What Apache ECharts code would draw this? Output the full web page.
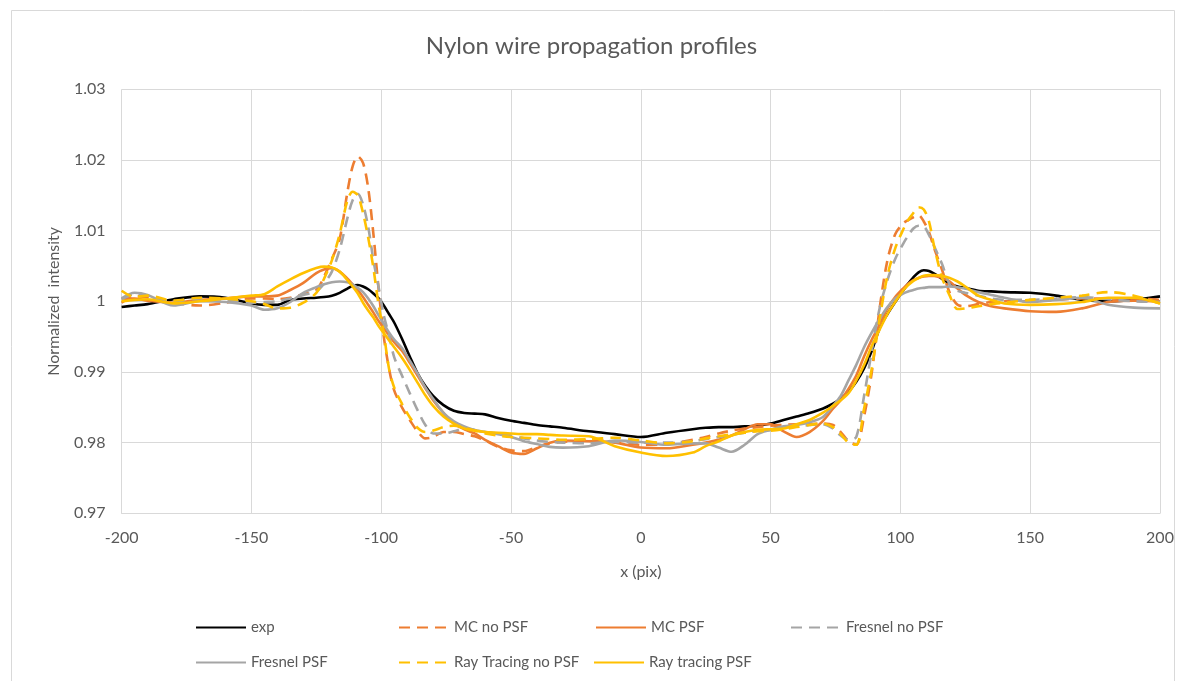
<!DOCTYPE html>
<html>
<head>
<meta charset="utf-8">
<script src="https://cdn.jsdelivr.net/npm/echarts@6/dist/echarts.min.js"></script>
<style>
  html, body { margin: 0; padding: 0; background: #fff; }
  #chart { width: 1183px; height: 681px; }
</style>
</head>
<body>
<div id="chart"></div>
<script>
// x positions (pix) shared by every profile
const xs = [
  -200, -195, -190, -180, -170, -160, -150, -145, -140, -135, -130, -125,
  -122, -119, -116, -113, -111, -109, -107, -105, -103, -101, -99, -97, -95, -92, -89, -86, -83, -80,
  -76, -72, -68, -64, -60, -55, -50, -45, -40, -35, -30, -20, -10, 0,
  10, 20, 25, 30, 35, 40, 45, 50, 55, 60, 65, 70, 74, 77, 80,
  83, 86, 89, 92, 95, 98, 101, 103, 105, 107, 109, 111, 113, 116, 119, 122, 125,
  130, 135, 140, 150, 160, 170, 180, 190, 200
]

const exp = [
  0.9992, 0.9994, 0.9996, 1.0003, 1.0007, 1.0005, 0.9997, 0.9995, 0.9995, 1.0002, 1.0004, 1.0005,
  1.0006, 1.0008, 1.0012, 1.0018, 1.0022, 1.0023, 1.0021, 1.0017, 1.0011, 1.0004, 0.9994, 0.9982, 0.9970, 0.9947, 0.9922, 0.9898, 0.9880, 0.9866,
  0.9853, 0.9845, 0.9842, 0.9841, 0.9840, 0.9835, 0.9831, 0.9828, 0.9825, 0.9823, 0.9821, 0.9816, 0.9812, 0.9808,
  0.9814, 0.9819, 0.9821, 0.9822, 0.9822, 0.9823, 0.9824, 0.9827, 0.9832, 0.9837, 0.9842, 0.9848, 0.9855, 0.9862, 0.9872,
  0.9886, 0.9905, 0.9930, 0.9962, 0.9982, 0.9999, 1.0015, 1.0025, 1.0034, 1.0041, 1.0044, 1.0043, 1.0039, 1.0032, 1.0025, 1.0021, 1.0019,
  1.0015, 1.0014, 1.0013, 1.0012, 1.0008, 1.0002, 1.0000, 1.0002, 1.0007
]

const mcNoPsf = [
  0.9998, 1.0007, 1.0006, 0.9998, 0.9994, 0.9998, 1.0004, 1.0004, 1.0003, 1.0005, 1.0010, 1.0016,
  1.0035, 1.0060, 1.0088, 1.0155, 1.0191, 1.0205, 1.0196, 1.0160, 1.0095, 1.0018, 0.9950, 0.9905, 0.9874, 0.9850, 0.9832, 0.9816, 0.9806, 0.9808,
  0.9815, 0.9815, 0.9812, 0.9809, 0.9803, 0.9794, 0.9789, 0.9788, 0.9794, 0.9799, 0.9801, 0.9804, 0.9801, 0.9797,
  0.9798, 0.9804, 0.9808, 0.9813, 0.9817, 0.9820, 0.9822, 0.9824, 0.9825, 0.9826, 0.9826, 0.9827, 0.9825, 0.9815, 0.9802,
  0.9797, 0.9837, 0.9900, 0.9990, 1.0058, 1.0095, 1.0110, 1.0115, 1.0119, 1.0122, 1.0113, 1.0098, 1.0075, 1.0045, 1.0012, 0.9995, 0.9993,
  0.9996, 0.9999, 1.0000, 1.0000, 1.0002, 1.0004, 1.0004, 1.0004, 1.0002
]

const mcPsf = [
  1.0004, 1.0004, 1.0001, 0.9998, 1.0002, 1.0004, 1.0007, 1.0007, 1.0008, 1.0016, 1.0026, 1.0040,
  1.0045, 1.0047, 1.0042, 1.0032, 1.0024, 1.0016, 1.0006, 0.9995, 0.9984, 0.9972, 0.9962, 0.9952, 0.9942, 0.9930, 0.9913, 0.9895, 0.9877, 0.9860,
  0.9842, 0.9827, 0.9819, 0.9813, 0.9804, 0.9795, 0.9786, 0.9784, 0.9792, 0.9800, 0.9803, 0.9802, 0.9800, 0.9793,
  0.9792, 0.9797, 0.9800, 0.9804, 0.9810, 0.9819, 0.9826, 0.9826, 0.9816, 0.9808, 0.9815, 0.9830, 0.9848, 0.9860, 0.9876,
  0.9895, 0.9922, 0.9946, 0.9967, 0.9990, 1.0006, 1.0018, 1.0025, 1.0030, 1.0033, 1.0035, 1.0036, 1.0036, 1.0033, 1.0028, 1.0018, 1.0009,
  0.9999, 0.9993, 0.9990, 0.9986, 0.9985, 0.9990, 0.9999, 1.0001, 1.0000
]

const fresnelNoPsf = [
  1.0003, 1.0010, 1.0008, 1.0000, 1.0004, 1.0002, 0.9998, 0.9999, 1.0000, 1.0004, 1.0009, 1.0014,
  1.0025, 1.0042, 1.0073, 1.0118, 1.0143, 1.0152, 1.0137, 1.0105, 1.0058, 1.0020, 0.9980, 0.9952, 0.9921, 0.9895, 0.9870, 0.9846, 0.9825, 0.9813,
  0.9813, 0.9816, 0.9820, 0.9818, 0.9815, 0.9813, 0.9810, 0.9806, 0.9803, 0.9801, 0.9800, 0.9799, 0.9801, 0.9800,
  0.9800, 0.9802, 0.9805, 0.9808, 0.9811, 0.9814, 0.9817, 0.9819, 0.9821, 0.9823, 0.9825, 0.9826, 0.9820, 0.9810, 0.9804,
  0.9808, 0.9866, 0.9930, 0.9990, 1.0030, 1.0060, 1.0081, 1.0093, 1.0103, 1.0107, 1.0106, 1.0094, 1.0078, 1.0053, 1.0024, 1.0015, 1.0012,
  1.0008, 1.0004, 1.0002, 1.0002, 1.0004, 1.0006, 1.0003, 1.0000, 0.9999
]

const fresnelPsf = [
  1.0004, 1.0012, 1.0009, 0.9994, 1.0000, 0.9999, 0.9994, 0.9988, 0.9990, 0.9999, 1.0012, 1.0020,
  1.0024, 1.0027, 1.0028, 1.0027, 1.0024, 1.0019, 1.0013, 1.0004, 0.9993, 0.9980, 0.9968, 0.9956, 0.9946, 0.9934, 0.9916, 0.9898, 0.9878, 0.9862,
  0.9842, 0.9830, 0.9823, 0.9818, 0.9815, 0.9812, 0.9808, 0.9802, 0.9798, 0.9794, 0.9793, 0.9795, 0.9803, 0.9801,
  0.9797, 0.9799, 0.9799, 0.9793, 0.9787, 0.9797, 0.9812, 0.9818, 0.9823, 0.9825, 0.9829, 0.9836, 0.9852, 0.9866, 0.9888,
  0.9910, 0.9935, 0.9956, 0.9975, 0.9992, 1.0004, 1.0011, 1.0014, 1.0016, 1.0018, 1.0019, 1.0020, 1.0020, 1.0020, 1.0021, 1.0020, 1.0018,
  1.0013, 1.0009, 1.0005, 0.9999, 1.0002, 1.0005, 0.9995, 0.9991, 0.9990
]

const rayNoPsf = [
  1.0015, 1.0006, 1.0008, 1.0001, 1.0005, 1.0004, 1.0000, 0.9996, 0.9990, 0.9991, 0.9998, 1.0012,
  1.0032, 1.0058, 1.0095, 1.0143, 1.0155, 1.0150, 1.0125, 1.0090, 1.0047, 0.9995, 0.9955, 0.9905, 0.9878, 0.9855, 0.9836, 0.9821, 0.9815, 0.9817,
  0.9822, 0.9824, 0.9821, 0.9817, 0.9813, 0.9810, 0.9808, 0.9807, 0.9806, 0.9805, 0.9804, 0.9805, 0.9807, 0.9803,
  0.9799, 0.9802, 0.9806, 0.9809, 0.9812, 0.9814, 0.9816, 0.9817, 0.9819, 0.9822, 0.9825, 0.9827, 0.9822, 0.9812, 0.9800,
  0.9797, 0.9848, 0.9905, 0.9975, 1.0036, 1.0075, 1.0101, 1.0115, 1.0125, 1.0133, 1.0130, 1.0113, 1.0078, 1.0034, 1.0008, 0.9989, 0.9990,
  0.9993, 0.9996, 0.9998, 1.0002, 1.0005, 1.0008, 1.0013, 1.0008, 0.9997
]

const rayPsf = [
  1.0000, 1.0002, 1.0003, 0.9997, 1.0000, 1.0004, 1.0008, 1.0010, 1.0021, 1.0031, 1.0040, 1.0047,
  1.0049, 1.0048, 1.0042, 1.0030, 1.0021, 1.0011, 0.9998, 0.9987, 0.9977, 0.9965, 0.9955, 0.9945, 0.9935, 0.9920, 0.9903, 0.9885, 0.9867, 0.9852,
  0.9837, 0.9827, 0.9820, 0.9817, 0.9815, 0.9814, 0.9813, 0.9812, 0.9812, 0.9811, 0.9810, 0.9809, 0.9795, 0.9786,
  0.9781, 0.9786, 0.9795, 0.9802, 0.9810, 0.9815, 0.9818, 0.9819, 0.9820, 0.9826, 0.9832, 0.9842, 0.9852, 0.9860, 0.9870,
  0.9888, 0.9910, 0.9937, 0.9960, 0.9982, 0.9999, 1.0015, 1.0023, 1.0029, 1.0033, 1.0036, 1.0037, 1.0037, 1.0036, 1.0033, 1.0028, 1.0021,
  1.0008, 1.0002, 0.9997, 0.9995, 0.9996, 0.9999, 1.0005, 1.0005, 0.9997
]

const font = 'Lato, "Open Sans", sans-serif'
const textGrey = '#595959'
const gridGrey = '#D9D9D9'

const profiles = [
  { name: 'exp', data: exp, color: '#000000', dashed: false },
  { name: 'MC no PSF', data: mcNoPsf, color: '#ED7D31', dashed: true },
  { name: 'MC PSF', data: mcPsf, color: '#ED7D31', dashed: false },
  { name: 'Fresnel no PSF', data: fresnelNoPsf, color: '#A5A5A5', dashed: true },
  { name: 'Fresnel PSF', data: fresnelPsf, color: '#A5A5A5', dashed: false },
  { name: 'Ray Tracing no PSF', data: rayNoPsf, color: '#FFC000', dashed: true },
  { name: 'Ray tracing PSF', data: rayPsf, color: '#FFC000', dashed: false }
]

// legend slots laid out like the original two-row grid
const legendSlots = [
  [190, 615], [393, 615], [590, 615], [785, 615],
  [190, 650], [393, 650], [588, 650]
]

const chart = echarts.init(document.getElementById('chart'))

const option = {
  animation: false,
  backgroundColor: '#fff',
  graphic: [{
    type: 'rect',
    shape: { x: 11.5, y: 10.5, width: 1163, height: 690 },
    style: { fill: 'none', stroke: gridGrey, lineWidth: 1 },
    silent: true
  }],
  title: {
    text: 'Nylon wire propagation profiles',
    left: 'center',
    top: 29,
    textStyle: { color: textGrey, fontFamily: font, fontSize: 24, fontWeight: 'normal' }
  },
  legend: profiles.map((p, i) => ({
    data: [p.name],
    left: legendSlots[i][0],
    top: legendSlots[i][1],
    itemWidth: 50,
    itemHeight: 14,
    itemStyle: { opacity: 0 },
    textStyle: { color: textGrey, fontFamily: font, fontSize: 15 }
  })),
  grid: { left: 121.6, right: 23, top: 89.3, bottom: 167.7 },
  xAxis: {
    type: 'value',
    min: -200,
    max: 200,
    interval: 50,
    name: 'x (pix)',
    nameLocation: 'middle',
    nameGap: 51,
    nameTextStyle: { color: textGrey, fontFamily: font, fontSize: 16 },
    axisLine: { lineStyle: { color: gridGrey } },
    axisTick: { show: false },
    axisLabel: { color: textGrey, fontFamily: font, fontSize: 16, margin: 17 },
    splitLine: { lineStyle: { color: gridGrey } }
  },
  yAxis: {
    type: 'value',
    min: 0.97,
    max: 1.03,
    interval: 0.01,
    name: 'Normalized  intensity',
    nameLocation: 'middle',
    nameGap: 60,
    nameTextStyle: { color: textGrey, fontFamily: font, fontSize: 16 },
    axisLine: { show: false },
    axisTick: { show: false },
    axisLabel: {
      color: textGrey, fontFamily: font, fontSize: 16, margin: 16,
      formatter: v => String(Number(v.toFixed(2)))
    },
    splitLine: { lineStyle: { color: gridGrey } }
  },
  series: profiles.map(p => ({
    name: p.name,
    type: 'line',
    smooth: 0.3,
    symbol: 'none',
    data: xs.map((x, i) => [x, p.data[i]]),
    itemStyle: { color: p.color },
    lineStyle: { color: p.color, width: 2.6, type: p.dashed ? [11, 7] : 'solid' }
  }))
}

chart.setOption(option)
</script>
</body>
</html>
